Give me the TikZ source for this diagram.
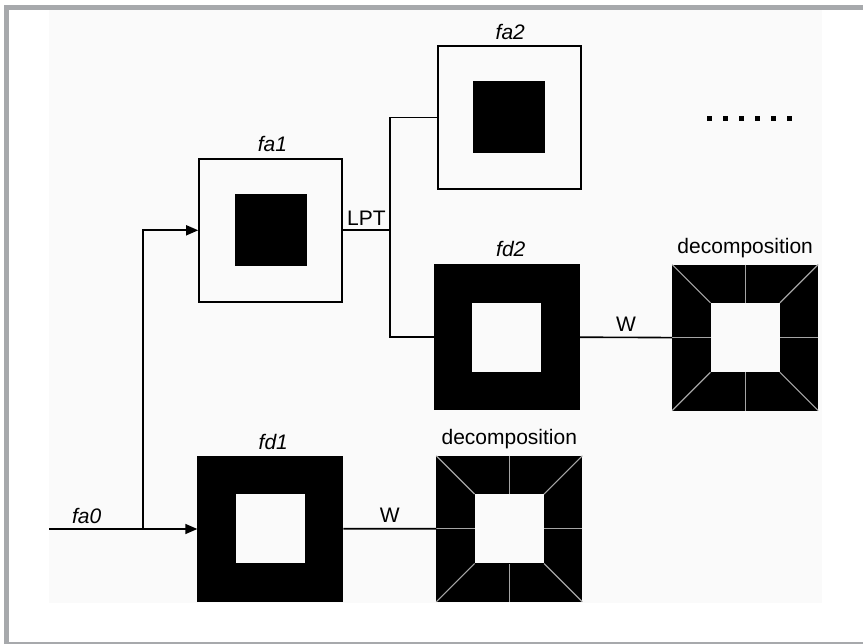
\documentclass[tikz,border=0pt]{standalone}
\usepackage{fontspec}
\setmainfont{Liberation Sans}
\usetikzlibrary{arrows.meta,calc}
\definecolor{framegray}{RGB}{167,169,172}
\definecolor{decgray}{RGB}{165,165,165}
\definecolor{bgoff}{RGB}{250,250,250}
\begin{document}
\begin{tikzpicture}[x=1pt,y=-1pt,
  outerw/.style={draw=black,line width=1.6pt,fill=bgoff,minimum size=143pt,inner sep=0pt},
  outerb/.style={draw=black,line width=1pt,fill=black,minimum size=145pt,inner sep=0pt},
  innerb/.style={fill=black,draw=none,minimum size=72pt,inner sep=0pt},
  innerw/.style={fill=bgoff,draw=none,minimum size=69pt,inner sep=0pt},
  conn/.style={line width=1.6pt,draw=black},
  arr/.style={conn,-{Triangle[length=12pt,width=10pt]}},
  lab/.style={font=\fontsize{21}{21}\selectfont\itshape,inner sep=0pt,anchor=base},
  txt/.style={font=\fontsize{21}{21}\selectfont,inner sep=0pt,anchor=base},
  splitline/.style={draw=decgray,line width=1.2pt}]
\useasboundingbox (0,0) rectangle (863,644);
% background and frame
\fill[white] (0,0) rectangle (863,644);
\fill[bgoff] (49,10) rectangle (822,603);
\fill[framegray] (4,5) rectangle (863,10);
\fill[framegray] (4,5) rectangle (9,644);
\fill[framegray] (4,641.5) rectangle (863,644);

% boxes
\node[outerw] (fa1) at (270.5,230.3) {};
\node[innerb] (fa1i) at (fa1.center) {};
\node[outerw] (fa2) at (509.3,117.5) {};
\node[innerb] (fa2i) at (fa2.center) {};
\node[outerb] (fd2) at (506.8,337.2) {};
\node[innerw] (fd2i) at (fd2.center) {};
\node[outerb] (dR) at (745.2,337.6) {};
\node[innerw] (dRi) at (dR.center) {};
\node[outerb] (fd1) at (270.3,528.7) {};
\node[innerw] (fd1i) at (fd1.center) {};
\node[outerb] (dB) at (509.3,528.8) {};
\node[innerw] (dBi) at (dB.center) {};

% decomposition split lines
\foreach \a in {north west,north,north east,east,south east,south,south west,west} {
  \draw[splitline] (dR.\a) -- (dRi.\a);
  \draw[splitline] (dB.\a) -- (dBi.\a);
}

% labels
\node[lab] (lfa1) at ($(fa1.north)+(2,-6)$) {fa1};
\node[lab] (lfa2) at ($(fa2.north)+(1,-6)$) {fa2};
\node[lab] (lfd2) at ($(fd2.north)+(4,-7.5)$) {fd2};
\node[lab] (lfd1) at ($(fd1.north)+(3,-6.5)$) {fd1};
\node[txt] (ldR) at ($(dR.north)+(0,-11)$) {decomposition};
\node[txt] (ldB) at ($(dB.north)+(0,-11)$) {decomposition};

% connectors
\coordinate (s0) at (49,529);
\coordinate (j0) at (143,529);
\coordinate (j1) at (390,230.3);
\draw[arr] (s0) -- (s0 -| fd1.west);
\draw[arr] (j0) |- (fa1.west);
\draw[conn] (fa1.east) -- (j1);
\draw[conn] (fa2.west) -| (j1) |- (fd2.west);
\draw[conn] (fd2.east) -- (dR.west);
\draw[conn] (fd1.east) -- (dB.west);

\node[lab] (lfa0) at (86.7,523) {fa0};
\node[txt] (llpt) at ($(fa1.east)!0.5!(j1)+(0,-4.5)$) {LPT};
\node[txt] (lw1) at ($(fd2.east)!0.5!(dR.west)+(0,-6)$) {W};
\node[txt] (lw2) at ($(fd1.east)!0.5!(dB.west)+(0,-6)$) {W};

% ellipsis dots
\foreach \x in {709.3,725.3,741.3,757.3,773.3,789.3} {
  \fill[black] (\x-2.5,115.8) rectangle +(5,5);
}
\end{tikzpicture}
\end{document}
